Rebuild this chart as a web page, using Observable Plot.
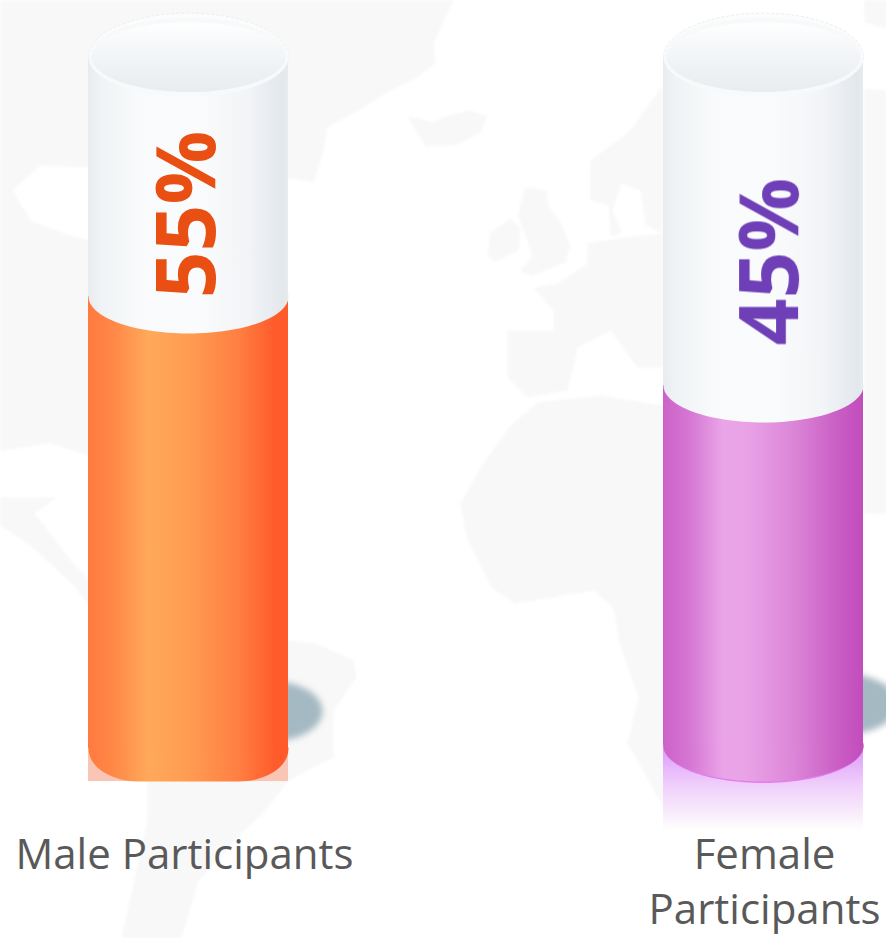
<!DOCTYPE html>
<html>
<head>
<meta charset="utf-8">
<script src="https://cdn.jsdelivr.net/npm/d3@7"></script>
<script src="https://cdn.jsdelivr.net/npm/@observablehq/plot@0.6"></script>
<style>html,body{margin:0;padding:0;background:#fff}svg{display:block}</style>
</head>
<body>
<div id="chart"></div>
<script>
// Chart data
const categories = ["Male Participants", "Female Participants"];
const shares = [55, 45];
const shareLabels = ["55%", "45%"];
const labelLines = ["Male Participants", "Female\nParticipants"];
const labelColors = ["#e94e13", "#6f3fb8"];
const labelBase = [54.8, 49.5];
const labelShift = [0.6, 8.6];
const captionShift = [-4, 1];
const bodyFills = ["url(#orangeBody)", "url(#violetBody)"];
const mirrorFills = ["#f9c6b6", "url(#violetMirror)"];
const cylinderTop = 81.9;
const cylinderBases = [4.2, 4.5];
const mirrorEnds = [0.5, -5];
const shadowLevels = [8.4, 9.2];
const captionLevel = -5.0;

// Faint world map backdrop
const landAmericaNorth = [[0,0],[453,0],[433,43],[435,63],[417,77],[390,90],[363,107],[327,127],[323,150],[313,182],[290,178],[200,200],[88,167],[40,165],[12,190],[30,220],[70,235],[88,240],[200,300],[88,455],[50,443],[0,450]];
const landAmericaMiddle = [[0,497],[56,497],[34,513],[73,563],[100,590],[100,620],[73,585],[30,545],[0,525]];
const landAmericaSouth = [[150,600],[288,640],[316,643],[353,660],[356,677],[333,710],[333,757],[288,780],[265,810],[237,837],[198,880],[181,938],[121,938],[147,820],[147,780]];
const landIceland = [[407,116],[420,118],[432,122],[450,114],[470,110],[487,116],[480,132],[455,145],[425,146],[418,134]];
const landIreland = [[510,218],[520,228],[518,250],[495,261],[487,255],[490,232]];
const landBritain = [[525,187],[546,190],[548,205],[560,222],[570,245],[565,262],[530,276],[520,270],[532,255],[525,235],[517,215]];
const landScandinavia = [[662,85],[662,233],[645,225],[640,190],[621,183],[612,210],[622,232],[610,236],[608,205],[590,200],[590,160],[630,130]];
const landEurope = [[587,243],[587,263],[557,283],[533,287],[553,310],[553,330],[507,330],[507,377],[527,397],[567,390],[577,347],[610,330],[637,367],[662,367],[662,233],[623,237]];
const landAfrica = [[537,402],[600,395],[662,405],[700,500],[667,833],[661,803],[627,743],[638,697],[619,643],[613,607],[593,590],[514,603],[491,587],[466,537],[460,503],[480,467],[510,425]];
const landAsiaTop = [[864,0],[886,0],[886,28],[864,22]];
const landAsia = [[864,88],[886,90],[886,513],[864,513]];
const lands = [landAmericaNorth, landAmericaMiddle, landAmericaSouth, landIceland, landIreland, landBritain, landScandinavia, landEurope, landAfrica, landAsiaTop, landAsia];

const mapRows = lands.flatMap((ring, id) => ring.map(([px, py]) => ({id, px, py})));
const rows = categories.map((category, i) => ({
  category, share: shares[i], text: shareLabels[i], color: labelColors[i],
  labelAt: labelBase[i], base: cylinderBases[i], mirror: mirrorEnds[i],
  body: bodyFills[i], mirrorFill: mirrorFills[i], shadow: shadowLevels[i],
  caption: labelLines[i], top: cylinderTop
}));

const K = 0.5522848;
const ellipse = (ratio) => ({draw(c, size) {
  const rx = Math.sqrt(size / Math.PI), ry = rx * ratio;
  c.moveTo(-rx, 0);
  c.bezierCurveTo(-rx, -K * ry, -K * rx, -ry, 0, -ry);
  c.bezierCurveTo(K * rx, -ry, rx, -K * ry, rx, 0);
  c.bezierCurveTo(rx, K * ry, K * rx, ry, 0, ry);
  c.bezierCurveTo(-K * rx, ry, -rx, K * ry, -rx, 0);
  c.closePath();
}});
const flatBottom = (ratio) => ({draw(c, size) {
  const rx = Math.sqrt(size / Math.PI), ry = rx * ratio;
  c.moveTo(-rx, -1);
  c.lineTo(-rx, 0);
  c.bezierCurveTo(-rx, ry * 0.6, -rx * 0.75, ry, -rx * 0.5, ry);
  c.lineTo(rx * 0.5, ry);
  c.bezierCurveTo(rx * 0.75, ry, rx, ry * 0.6, rx, 0);
  c.lineTo(rx, -1);
  c.closePath();
}});

const gradient = (id, stops, vertical) => {
  const g = d3.create("svg:linearGradient").attr("id", id)
    .attr("x1", 0).attr("y1", 0).attr("x2", vertical ? 0 : 1).attr("y2", vertical ? 1 : 0);
  stops.forEach(([o, c, a]) => g.append("stop").attr("offset", o).attr("stop-color", c).attr("stop-opacity", a ?? 1));
  return g.node();
};
const defs = () => {
  const d = d3.create("svg:defs");
  d.append(() => gradient("orangeBody", [[0,"#ff7a3e"],[0.14,"#ff8a48"],[0.3,"#ffa95a"],[0.5,"#ff9c52"],[0.75,"#ff7f42"],[0.93,"#ff5c2c"],[1,"#ff5a2a"]]));
  d.append(() => gradient("violetBody", [[0,"#cc62c8"],[0.14,"#d678d4"],[0.3,"#eaa4e8"],[0.42,"#e9a2e6"],[0.65,"#dc86d8"],[0.88,"#c95dc4"],[1,"#c24cbc"]]));
  d.append(() => gradient("silver", [[0,"#e8ecef"],[0.06,"#f0f3f5"],[0.25,"#f8fafb"],[0.55,"#fafbfc"],[0.8,"#f2f4f7"],[0.97,"#e3e8ec"],[1,"#e8ebee"]]));
  d.append(() => gradient("capFill", [[0,"#ffffff"],[0.3,"#f6f8fa"],[1,"#e8ecef"]], true));
  d.append(() => gradient("violetMirror", [[0,"#dc96fb"],[0.45,"#efcdfb"],[0.8,"#f8ecfc"],[1,"#ffffff"]], true));
  return d.node();
};

const fig = Plot.plot({
  width: 886, height: 938,
  margin: 0,
  style: {background: "transparent"},
  x: {domain: categories, range: [88, 863], paddingInner: 375 / 575, paddingOuter: 0, axis: null},
  y: {domain: [0, 100], range: [785.5, -104.5], axis: null},
  marks: [
    defs,
    Plot.line(mapRows, {x: {value: "px", scale: null}, y: {value: "py", scale: null}, z: "id", dx: -100, curve: "linear-closed", fill: "#f8f8f8", stroke: "none", imageFilter: "blur(1px)"}),
    // mirror under the foot
    Plot.barY(rows, {x: "category", y1: "base", y2: "mirror", fill: "mirrorFill"}),
    // cast shadow
    Plot.dot(rows, {x: "category", y: "shadow", r: 52, dx: 82, symbol: ellipse(0.58), fill: "#a5b9c2", imageFilter: "blur(3px)"}),
    // empty tube: back rim, wall, mouth
    Plot.dot(rows, {x: "category", y: "top", r: 100, symbol: ellipse(0.44), fill: "#fbfcfc", stroke: "#eeeeee", strokeWidth: 1, strokeDasharray: "3,2"}),
    Plot.barY(rows, {x: "category", y1: "share", y2: "top", fill: "url(#silver)", stroke: "none"}),
    Plot.dot(rows, {x: "category", y: "top", r: 100, symbol: ellipse(0.395), fill: "#f8f9fb"}),
    Plot.dot(rows, {x: "category", y: "top", r: 97, symbol: ellipse(0.36), fill: "url(#capFill)"}),
    // liquid column
    Plot.dot(rows.filter(d => d.share === 45), {x: "category", y: "base", r: 100, symbol: ellipse(0.37), fill: "#e37cf0"}),
    Plot.dot(rows.filter(d => d.share === 45), {x: "category", y: "base", r: 100, symbol: ellipse(0.355), fill: "body"}),
    Plot.dot(rows.filter(d => d.share === 55), {x: "category", y: "base", r: 100, symbol: flatBottom(0.33), fill: "body"}),
    Plot.barY(rows, {x: "category", y1: "base", y2: "share", fill: "body"}),
    // surface of the liquid
    Plot.dot(rows, {x: "category", y: "share", r: 100, symbol: ellipse(0.37), fill: "url(#silver)"}),
    // values
    ...rows.map((d, i) => Plot.text([d], {x: "category", y: "labelAt", text: "text", rotate: -90, textAnchor: "start", lineAnchor: "middle", dx: labelShift[i], fill: d.color, fontSize: 82, fontWeight: 700, fontFamily: "Open Sans"})),
    // captions
    ...rows.map((d, i) => Plot.text([d], {x: "category", y: () => captionLevel, text: "caption", lineAnchor: "top", dx: captionShift[i], fontSize: 42, fontFamily: "Open Sans", fill: "#595959", lineHeight: 1.3}))
  ]
});
document.getElementById("chart").appendChild(fig);
</script>
</body>
</html>
